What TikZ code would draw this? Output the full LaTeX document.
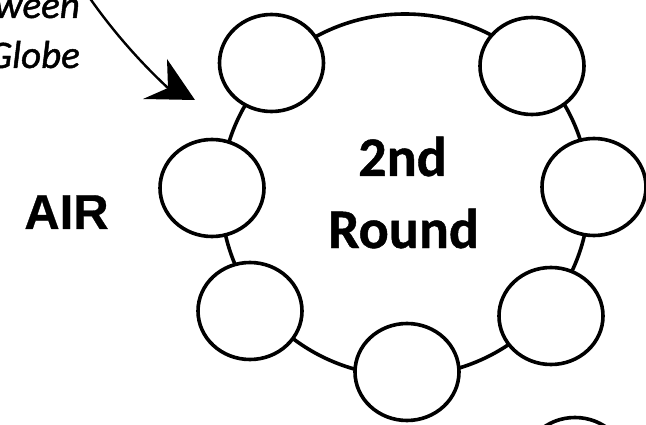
\documentclass[tikz,border=0pt]{standalone}
\usepackage{fontspec}
\setmainfont{Carlito}
\newfontfamily\notefont{Carlito}[FakeBold=1.2]
\newfontfamily\roundfont{Carlito}[FakeBold=0.8]
\newfontfamily\airfont{Liberation Sans}[FakeBold=0.6]
\usetikzlibrary{shapes.geometric}
\begin{document}
\begin{tikzpicture}[x=1pt,y=-1pt,
  seat/.style={draw, ellipse, fill=white, line width=3.6pt, minimum width=104pt, minimum height=97pt, inner sep=0pt},
  ringstyle/.style={draw, ellipse, line width=3.6pt, minimum width=368pt, minimum height=362pt, inner sep=0pt},
  bigtext/.style={font=\roundfont\fontsize{56}{73}\selectfont\bfseries, inner sep=0pt, anchor=base},
  airtext/.style={font=\airfont\fontsize{49}{55}\selectfont\bfseries, inner sep=0pt, anchor=base},
  notetext/.style={font=\notefont\fontsize{39}{49}\selectfont\itshape, inner sep=0pt, anchor=base east},
  arrowline/.style={line width=2.4pt}]
\useasboundingbox (0,0) rectangle (646,425);
\clip (0,0) rectangle (646,425);
\fill[white] (0,0) rectangle (646,425);
% ring
\node[ringstyle] (ring) at (405,195) {};
% seats
\node[seat] (tl) at (271.5,63) {};
\node[seat] (tr) at (532,66) {};
\node[seat] (l) at (212,188) {};
\node[seat] (r) at (594,187) {};
\node[seat] (bl) at (250,311) {};
\node[seat] (br) at (551,316) {};
\node[seat] (b) at (407,372) {};
\node[seat] (extra) at (575,466) {};
% texts
\node[bigtext] (t1) at (402.5,176) {2nd};
\node[bigtext] (t2) at (403.5,248) {Round};
\node[airtext] (air) at (66.5,229) {AIR};
\node[notetext] (n1) at (80,18) {ween};
\node[notetext] (n2) at (80,68) {Globe};
% arrow
\coordinate (arrS) at (89,-3);
\coordinate (tip) at (195,100);
\coordinate (notch) at (168,88);
\draw[arrowline] (arrS) .. controls (112,30) and (139,61) .. (notch);
\fill (tip) -- ++(-52,-1) -- (notch) -- ++(-1,-29) -- cycle;
\end{tikzpicture}
\end{document}
